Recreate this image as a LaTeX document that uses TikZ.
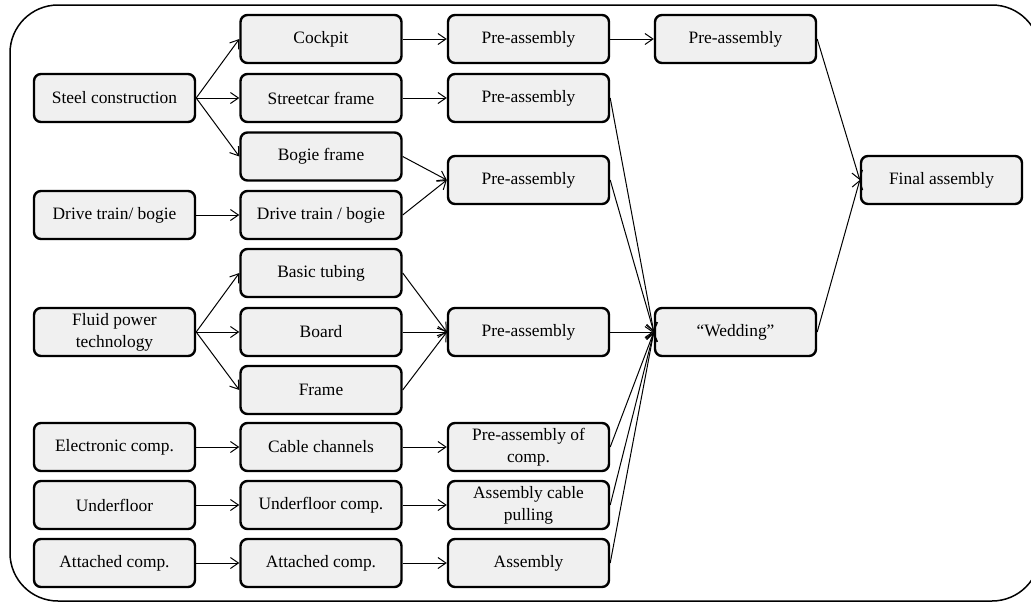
\documentclass[tikz,border=0pt]{standalone}
\usepackage{fontspec}
\setmainfont{Liberation Serif}
\usetikzlibrary{arrows.meta}
\definecolor{boxgray}{HTML}{F0F0F0}
\begin{document}
\begin{tikzpicture}[x=1pt,y=-1pt,
  box/.style={draw, line width=2.4pt, rounded corners=7pt, fill=boxgray,
    minimum width=161pt, minimum height=48pt, align=center,
    font=\fontsize{17.4}{22}\selectfont, inner sep=0pt},
  conn/.style={line width=1pt, -{Straight Barb[length=8pt,width=11pt]}},
]
\useasboundingbox (0,0) rectangle (1031,603);
\draw[line width=1.5pt, rounded corners=48pt] (10,5) rectangle (1040,601);

\def\ca{114.5}\def\cb{321}\def\cc{528.5}\def\cd{735.5}\def\ce{941.5}

\node[box] (steel)  at (\ca,98)  {Steel construction};
\node[box] (drivea) at (\ca,215) {Drive train/ bogie};
\node[box] (fluid)  at (\ca,332) {Fluid power\\technology};
\node[box] (elec)   at (\ca,447) {Electronic comp.};
\node[box] (under)  at (\ca,505) {Underfloor};
\node[box] (atta)   at (\ca,563) {Attached comp.};

\node[box] (cockpit) at (\cb,39)    {Cockpit};
\node[box] (street)  at (\cb,98)    {Streetcar frame};
\node[box] (bogie)   at (\cb,156.5) {Bogie frame};
\node[box] (driveb)  at (\cb,215)   {Drive train / bogie};
\node[box] (tubing)  at (\cb,273)   {Basic tubing};
\node[box] (board)   at (\cb,332)   {Board};
\node[box] (frame)   at (\cb,390)   {Frame};
\node[box] (cable)   at (\cb,447)   {Cable channels};
\node[box] (underc)  at (\cb,505)   {Underfloor comp.};
\node[box] (attb)    at (\cb,563)   {Attached comp.};

\node[box] (paa) at (\cc,39)  {Pre-assembly};
\node[box] (pab) at (\cc,98)  {Pre-assembly};
\node[box] (pac) at (\cc,180) {Pre-assembly};
\node[box] (pad) at (\cc,332) {Pre-assembly};
\node[box] (pacomp) at (\cc,447) {Pre-assembly of\\comp.};
\node[box] (acp) at (\cc,505) {Assembly cable\\pulling};
\node[box] (asm) at (\cc,563) {Assembly};

\node[box] (patop) at (\cd,39)  {Pre-assembly};
\node[box] (wed)   at (\cd,332) {“Wedding”};

\node[box] (final) at (\ce,180) {Final assembly};

\draw[conn] (steel.east) -- (cockpit.west);
\draw[conn] (steel.east) -- (street.west);
\draw[conn] (steel.east) -- (bogie.west);
\draw[conn] (drivea) -- (driveb);
\draw[conn] (fluid.east) -- (tubing.west);
\draw[conn] (fluid.east) -- (board.west);
\draw[conn] (fluid.east) -- (frame.west);
\draw[conn] (elec) -- (cable);
\draw[conn] (under) -- (underc);
\draw[conn] (atta) -- (attb);

\draw[conn] (cockpit) -- (paa);
\draw[conn] (paa) -- (patop);
\draw[conn] (street) -- (pab);
\draw[conn] (bogie.east) -- (pac.west);
\draw[conn] (driveb.east) -- (pac.west);
\draw[conn] (tubing.east) -- (pad.west);
\draw[conn] (board.east) -- (pad.west);
\draw[conn] (frame.east) -- (pad.west);
\draw[conn] (cable) -- (pacomp);
\draw[conn] (underc) -- (acp);
\draw[conn] (attb) -- (asm);

\draw[conn] (pab.east) -- (wed.west);
\draw[conn] (pac.east) -- (wed.west);
\draw[conn] (pad.east) -- (wed.west);
\draw[conn] (pacomp.east) -- (wed.west);
\draw[conn] (acp.east) -- (wed.west);
\draw[conn] (asm.east) -- (wed.west);

\draw[conn] (patop.east) -- (final.west);
\draw[conn] (wed.east) -- (final.west);
\end{tikzpicture}
\end{document}
